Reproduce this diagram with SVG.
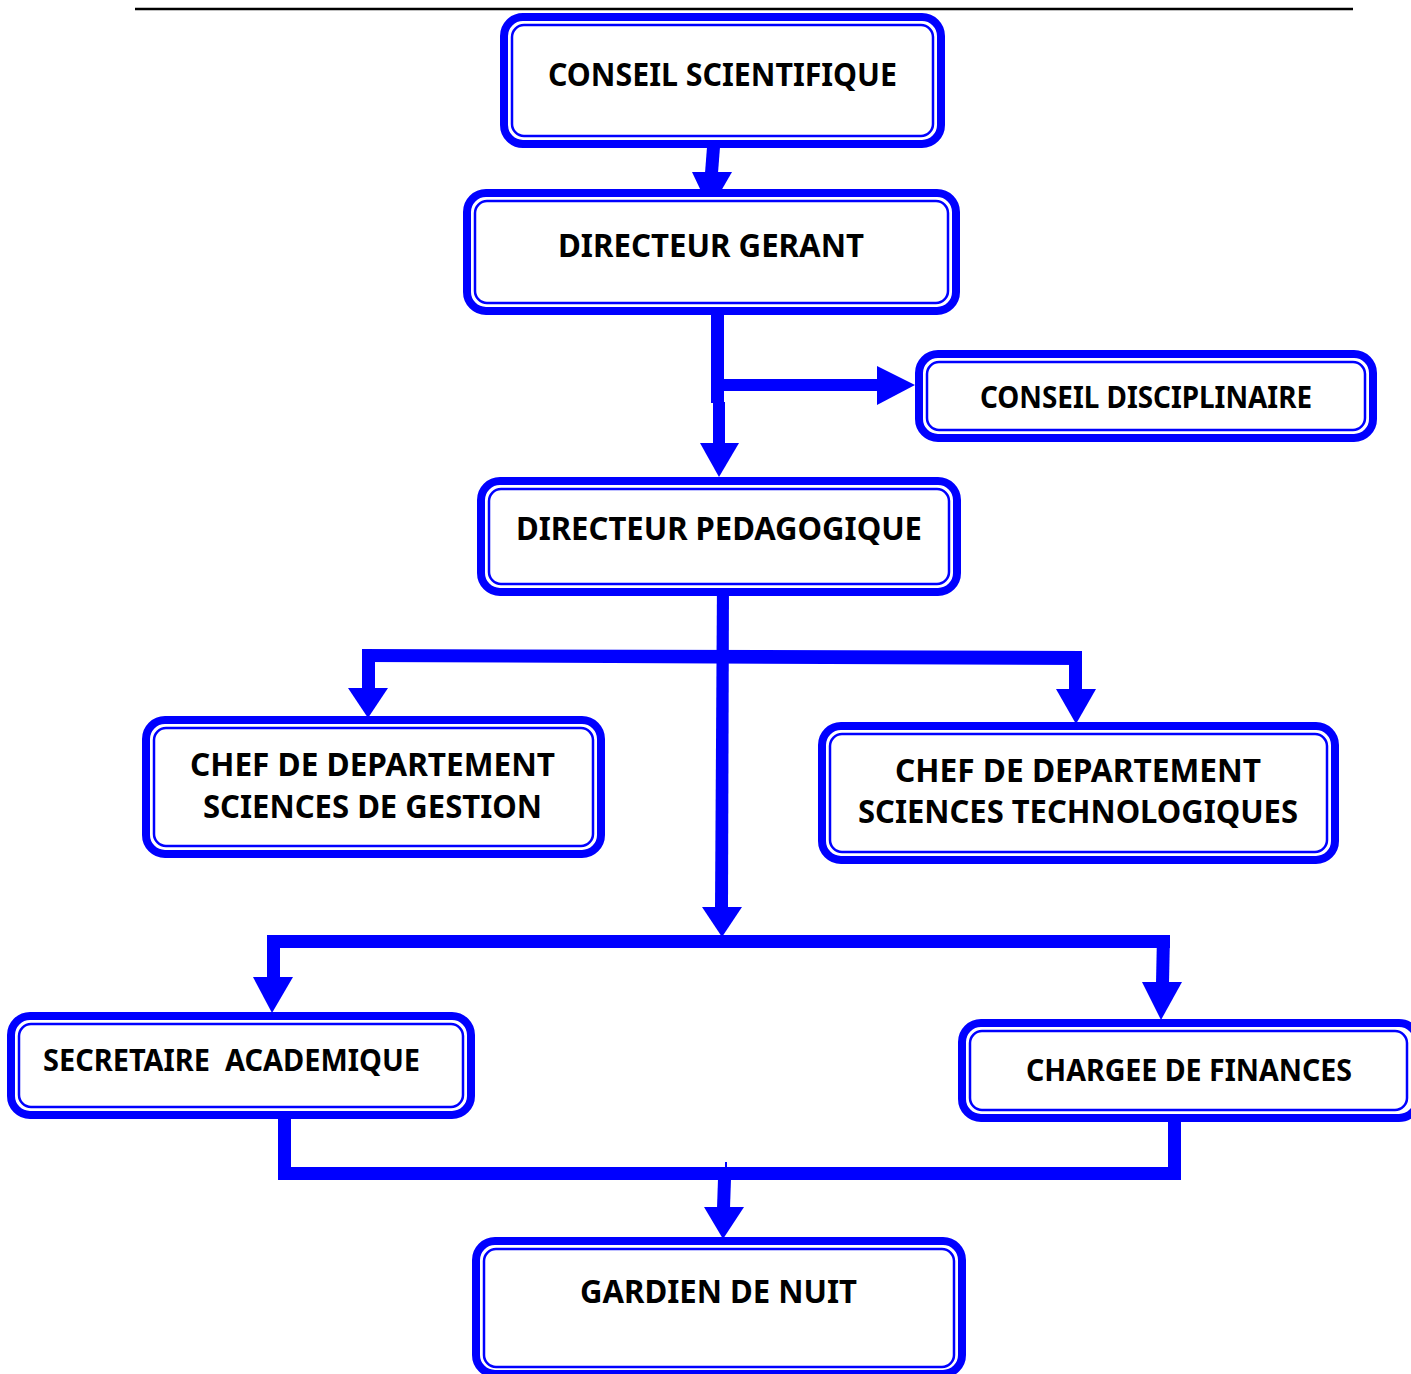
<svg xmlns="http://www.w3.org/2000/svg" width="1411" height="1374" viewBox="0 0 1411 1374">
<style>
.outer{fill:#ffffff;stroke:#0000ff;stroke-width:8}
.inner{fill:none;stroke:#0000ff;stroke-width:2.5}
.t{font-family:"Noto Sans","Open Sans","DejaVu Sans",sans-serif;font-weight:bold;fill:#000000;font-size:32px}
.s{font-size:29.5px}
.c{fill:#0000ff;stroke:none}
</style>
<rect width="1411" height="1374" fill="#ffffff"/>
<line x1="135" y1="9" x2="1353" y2="9" stroke="#000000" stroke-width="2.5"/>

<g id="connectors">
  <polygon class="c" points="707,147 720,147 718,173 705,173"/>
  <polygon class="c" points="692,172 732,172 710,210"/>
  <rect class="c" x="711" y="312" width="13" height="91"/>
  <rect class="c" x="713" y="402" width="12" height="42"/>
  <polygon class="c" points="700,443 739,443 719,477"/>
  <rect class="c" x="724" y="379" width="154" height="12"/>
  <polygon class="c" points="877,366 877,405 915,385"/>
  <polygon class="c" points="717,579 729,579 728,908 715,908"/>
  <polygon class="c" points="702,907 742,907 722,937"/>
  <polygon class="c" points="362,649 1082,651 1082,665 362,662"/>
  <rect class="c" x="1069" y="655" width="13" height="36"/>
  <polygon class="c" points="1056,689 1096,689 1076,724"/>
  <rect class="c" x="362" y="660" width="13" height="30"/>
  <polygon class="c" points="348,688 388,688 368,718"/>
  <rect class="c" x="267" y="935" width="903" height="13"/>
  <rect class="c" x="267" y="940" width="13" height="39"/>
  <polygon class="c" points="253,977 293,977 272,1013"/>
  <polygon class="c" points="1157,935 1170,935 1169,983 1156,983"/>
  <polygon class="c" points="1142,982 1182,982 1161,1020"/>
  <rect class="c" x="278" y="1115" width="13" height="65"/>
  <rect class="c" x="278" y="1167" width="903" height="13"/>
  <rect class="c" x="1168" y="1118" width="13" height="62"/>
  <rect class="c" x="725" y="1162" width="2" height="6"/>
  <polygon class="c" points="718,1179 731,1179 730,1208 717,1208"/>
  <polygon class="c" points="704,1207 744,1207 723,1239"/>
</g>

<g id="conseil-scientifique">
  <rect class="outer" x="504" y="17" width="437" height="127" rx="19"/>
  <rect class="inner" x="512" y="25" width="421" height="111" rx="12"/>
  <text class="t" x="548" y="86" textLength="349" lengthAdjust="spacingAndGlyphs">CONSEIL SCIENTIFIQUE</text>
</g>

<g id="directeur-gerant">
  <rect class="outer" x="467" y="193" width="489" height="118" rx="19"/>
  <rect class="inner" x="475" y="201" width="473" height="102" rx="12"/>
  <text class="t" x="558" y="257" textLength="306" lengthAdjust="spacingAndGlyphs">DIRECTEUR GERANT</text>
</g>

<g id="conseil-disciplinaire">
  <rect class="outer" x="919" y="354" width="454" height="84" rx="19"/>
  <rect class="inner" x="927" y="362" width="438" height="68" rx="12"/>
  <text class="t s" x="980" y="408" textLength="332" lengthAdjust="spacingAndGlyphs">CONSEIL DISCIPLINAIRE</text>
</g>

<g id="directeur-pedagogique">
  <rect class="outer" x="481" y="481" width="476" height="111" rx="19"/>
  <rect class="inner" x="489" y="489" width="460" height="95" rx="12"/>
  <text class="t" x="516" y="540" textLength="406" lengthAdjust="spacingAndGlyphs">DIRECTEUR PEDAGOGIQUE</text>
</g>

<g id="chef-gestion">
  <rect class="outer" x="146" y="720" width="455" height="134" rx="19"/>
  <rect class="inner" x="154" y="728" width="439" height="118" rx="12"/>
  <text class="t" x="190" y="776" textLength="365" lengthAdjust="spacingAndGlyphs">CHEF DE DEPARTEMENT</text>
  <text class="t" x="203" y="818" textLength="339" lengthAdjust="spacingAndGlyphs">SCIENCES DE GESTION</text>
</g>

<g id="chef-technologiques">
  <rect class="outer" x="822" y="726" width="513" height="134" rx="19"/>
  <rect class="inner" x="830" y="734" width="497" height="118" rx="12"/>
  <text class="t" x="895" y="782" textLength="366" lengthAdjust="spacingAndGlyphs">CHEF DE DEPARTEMENT</text>
  <text class="t" x="858" y="823" textLength="440" lengthAdjust="spacingAndGlyphs">SCIENCES TECHNOLOGIQUES</text>
</g>

<g id="secretaire-academique">
  <rect class="outer" x="11" y="1016" width="460" height="99" rx="19"/>
  <rect class="inner" x="19" y="1024" width="444" height="83" rx="12"/>
  <text class="t s" x="43" y="1071" textLength="377" lengthAdjust="spacingAndGlyphs" xml:space="preserve">SECRETAIRE  ACADEMIQUE</text>
</g>

<g id="chargee-finances">
  <rect class="outer" x="962" y="1023" width="456" height="95" rx="19"/>
  <rect class="inner" x="970" y="1031" width="437" height="79" rx="12"/>
  <text class="t s" x="1026" y="1081" textLength="326" lengthAdjust="spacingAndGlyphs">CHARGEE DE FINANCES</text>
</g>

<g id="gardien-nuit">
  <rect class="outer" x="476" y="1241" width="486" height="133" rx="19"/>
  <rect class="inner" x="484" y="1249" width="470" height="118" rx="12"/>
  <text class="t" x="580" y="1303" textLength="277" lengthAdjust="spacingAndGlyphs">GARDIEN DE NUIT</text>
</g>
</svg>
